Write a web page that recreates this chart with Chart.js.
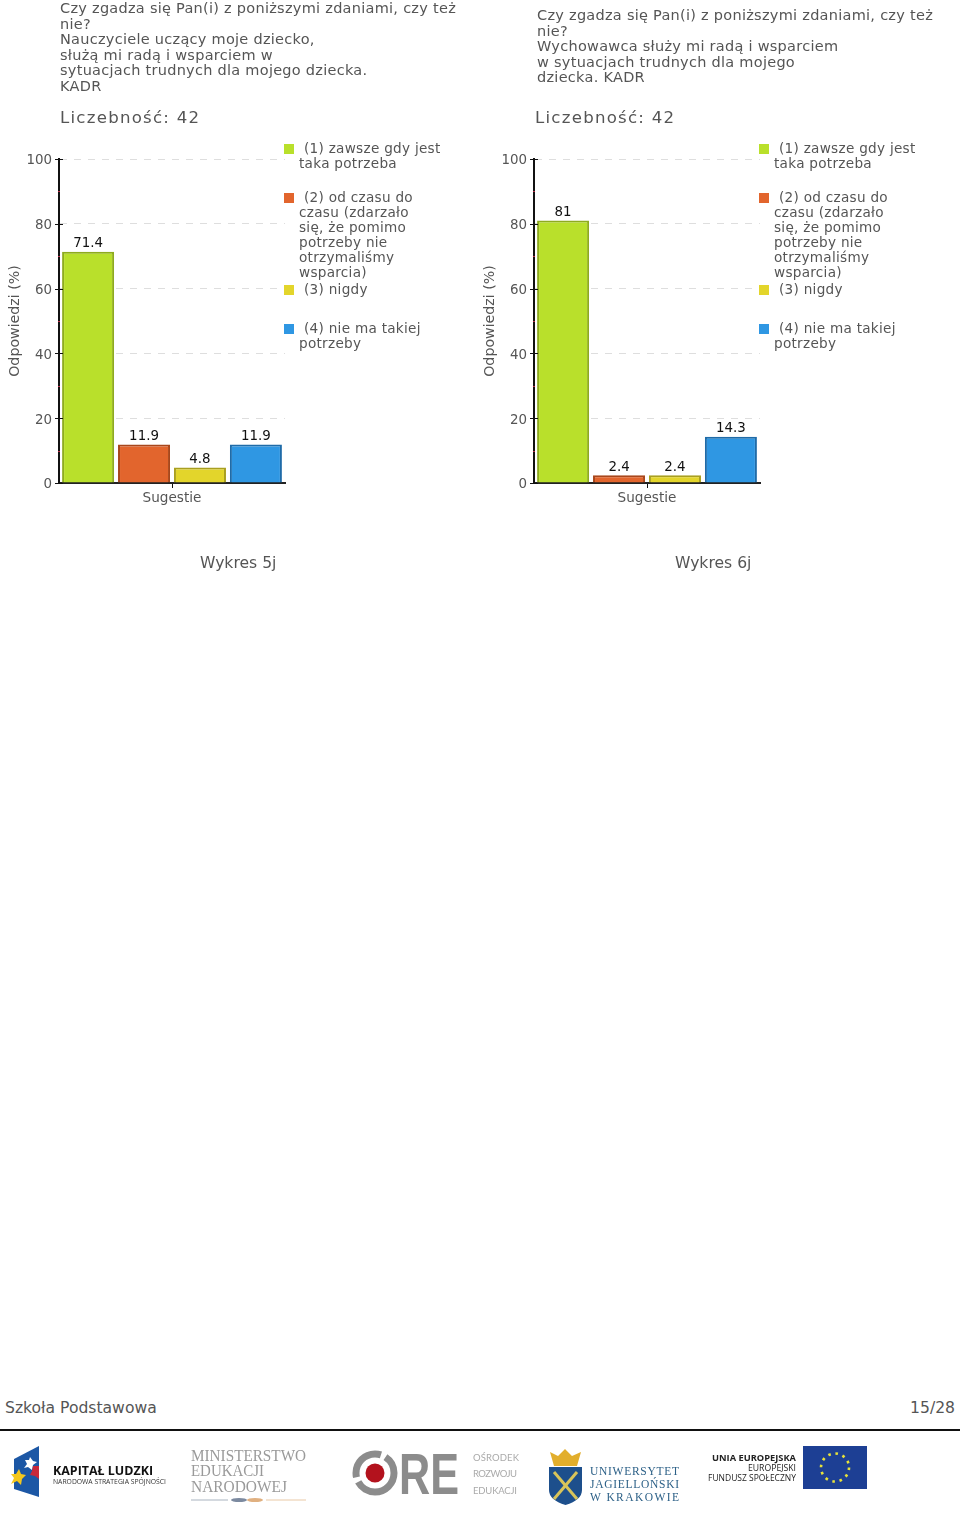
<!DOCTYPE html>
<html lang="pl">
<head>
<meta charset="utf-8">
<title>Wykres 5j, 6j</title>
<script src="https://cdn.jsdelivr.net/npm/chart.js@4"></script>
<style>
  html, body { margin: 0; padding: 0; background: #fff; }
  body { position: relative; width: 960px; height: 1518px; overflow: hidden; font-family: "DejaVu Sans", sans-serif; color: #555; }
  .abs { position: absolute; white-space: nowrap; }
  .head { font-size: 14.5px; line-height: 15.6px; letter-spacing: .27px; }
  .count { font-size: 16.6px; letter-spacing: 1.25px; line-height: 20px; }
  .legend-line { font-size: 13.6px; line-height: 15px; letter-spacing: .28px; }
  .swatch { position: absolute; width: 10px; height: 10px; }
  .caption, .foot { font-size: 15.6px; line-height: 18px; color: #555; }
  canvas { position: absolute; top: 140px; }
  #logos { position: absolute; left: 0; top: 0; }
</style>
</head>
<body>
<canvas id="chart5" width="480" height="380" style="left:0"></canvas>
<canvas id="chart6" width="480" height="380" style="left:475px"></canvas>
<div class="abs foot" style="left:5px;top:1399px">Szkoła Podstawowa</div>
<div class="abs foot" style="right:5px;top:1399px">15/28</div>
<div class="abs" style="left:0;top:1429px;width:960px;height:2px;background:#111"></div>

<svg id="logos" width="960" height="1518">
  <!-- Kapitał Ludzki -->
  <polygon points="14,1459 39,1446 39,1497 14,1489" fill="#1c57a5"/>
  <polygon points="30,1457 33,1461 37,1462 33,1465 32,1470 28,1467 24,1468 27,1464 25,1460 29,1460" fill="#fff"/>
  <polygon points="33,1466 39,1466 39,1479 35,1476 30,1475 32,1471" fill="#c8283a"/>
  <polygon points="19,1469 21,1474 26,1475 22,1479 21,1485 17,1481 11,1484 14,1478 11,1474 16,1474" fill="#f4c81e"/>
  <text x="53" y="1475" font-family="'Open Sans',sans-serif" font-weight="700" font-size="13" fill="#111" textLength="100" lengthAdjust="spacingAndGlyphs">KAPITAŁ LUDZKI</text>
  <text x="53" y="1484" font-family="'Open Sans',sans-serif" font-size="6.5" fill="#333" textLength="113" lengthAdjust="spacingAndGlyphs">NARODOWA STRATEGIA SPÓJNOŚCI</text>
  <!-- MEN -->
  <g font-family="'Liberation Serif',serif" font-size="16" fill="#9a9a9a">
    <text x="191" y="1461" textLength="115" lengthAdjust="spacingAndGlyphs">MINISTERSTWO</text>
    <text x="191" y="1476" textLength="73" lengthAdjust="spacingAndGlyphs">EDUKACJI</text>
    <text x="191" y="1492" textLength="96" lengthAdjust="spacingAndGlyphs">NARODOWEJ</text>
  </g>
  <line x1="191" y1="1500" x2="228" y2="1500" stroke="#a9b4c0" stroke-width="1"/>
  <line x1="266" y1="1500" x2="306" y2="1500" stroke="#e9c9a6" stroke-width="1"/>
  <ellipse cx="239" cy="1500" rx="8" ry="2" fill="#7c8aa0"/>
  <ellipse cx="255" cy="1500" rx="8" ry="2" fill="#e0b080"/>
  <!-- ORE -->
  <circle cx="375" cy="1473" r="19" fill="none" stroke="#8c8c8c" stroke-width="7" stroke-dasharray="50 5 40 5 20 5"/>
  <circle cx="375" cy="1473" r="9.5" fill="#b3121d"/>
  <text x="399" y="1494" font-family="'Liberation Sans',sans-serif" font-weight="700" font-size="57" fill="#8c8c8c" textLength="60" lengthAdjust="spacingAndGlyphs">RE</text>
  <g font-family="'Lato',sans-serif" font-size="9.5" fill="#aaa">
    <text x="473" y="1461" textLength="46">OŚRODEK</text>
    <text x="473" y="1477" textLength="44">ROZWOJU</text>
    <text x="473" y="1494" textLength="44">EDUKACJI</text>
  </g>
  <!-- UJ -->
  <polygon points="550,1452 558,1456 565,1449 572,1456 581,1452 577,1466 554,1466" fill="#e2ae2c"/>
  <path d="M549,1467 H582 V1490 Q582,1500 565.5,1505 Q549,1500 549,1490 Z" fill="#1d4f8c"/>
  <line x1="554" y1="1472" x2="577" y2="1499" stroke="#d8c45a" stroke-width="3"/>
  <line x1="577" y1="1472" x2="554" y2="1499" stroke="#d8c45a" stroke-width="3"/>
  <g font-family="'Liberation Serif',serif" font-size="11.5" fill="#2c6087">
    <text x="590" y="1475" textLength="89">UNIWERSYTET</text>
    <text x="590" y="1488" textLength="89">JAGIELLOŃSKI</text>
    <text x="590" y="1501" textLength="89">W KRAKOWIE</text>
  </g>
  <!-- UE -->
  <g font-family="'Open Sans',sans-serif" font-size="9" fill="#222" text-anchor="end">
    <text x="796" y="1461" font-weight="700" textLength="84" lengthAdjust="spacingAndGlyphs">UNIA EUROPEJSKA</text>
    <text x="796" y="1471" textLength="48" lengthAdjust="spacingAndGlyphs">EUROPEJSKI</text>
    <text x="796" y="1481" textLength="88" lengthAdjust="spacingAndGlyphs">FUNDUSZ SPOŁECZNY</text>
  </g>
  <rect x="803" y="1446" width="64" height="43" fill="#1d3f94"/>
  <circle cx="835" cy="1467.5" r="14" fill="none" stroke="#e8e23a" stroke-width="2.6" stroke-dasharray="2.6 4.73"/>
</svg>

<script>
// wykresy 5j i 6j
const categories = ['Sugestie'];
const seriesNames = ['(1) zawsze gdy jest taka potrzeba', '(2) od czasu do czasu', '(3) nigdy', '(4) nie ma takiej potrzeby'];
const values5j = [71.4, 11.9, 4.8, 11.9];
const values6j = [81, 2.4, 2.4, 14.3];
const fillColors = ['#b9e02b', '#e2652d', '#e3d52b', '#2f97e3'];
const edgeColors = ['#8eab1e', '#a8471c', '#a99f20', '#1f6ba8'];
const tickLabels = ['0', '20', '40', '60', '80', '100'];
const axisTitle = 'Odpowiedzi (%)';

const head5j = ['Czy zgadza się Pan(i) z poniższymi zdaniami, czy też', 'nie?', 'Nauczyciele uczący moje dziecko,', 'służą mi radą i wsparciem w', 'sytuacjach trudnych dla mojego dziecka.', 'KADR'];
const head6j = ['Czy zgadza się Pan(i) z poniższymi zdaniami, czy też', 'nie?', 'Wychowawca służy mi radą i wsparciem', 'w sytuacjach trudnych dla mojego', 'dziecka. KADR'];
const legendLines = [
  ['(1) zawsze gdy jest', 'taka potrzeba'],
  ['(2) od czasu do', 'czasu (zdarzało', 'się, że pomimo', 'potrzeby nie', 'otrzymaliśmy', 'wsparcia)'],
  ['(3) nigdy'],
  ['(4) nie ma takiej', 'potrzeby']
];

const FONT = '"DejaVu Sans", sans-serif';

function addText(cls, left, top, text) {
  const d = document.createElement('div');
  d.className = 'abs ' + cls;
  d.style.left = left + 'px';
  d.style.top = top + 'px';
  d.textContent = text;
  document.body.appendChild(d);
}

function addHeader(dx, x, top, lines) {
  lines.forEach((t, i) => addText('head', x, top + i * 15.6, t));
  addText('count', 60 + dx, 108, 'Liczebność: 42');
}

function addLegend(dx) {
  const tops = [141, 190, 282, 321];
  legendLines.forEach((lines, i) => {
    const sw = document.createElement('div');
    sw.className = 'swatch';
    sw.style.left = 284 + dx + 'px';
    sw.style.top = tops[i] + 3 + 'px';
    sw.style.background = fillColors[i];
    document.body.appendChild(sw);
    lines.forEach((t, j) => addText('legend-line', (j ? 299 : 304) + dx, tops[i] + j * 15, t));
  });
}

// etykiety nad slupkami
const barLabels = {
  id: 'barLabels',
  afterDatasetsDraw(chart) {
    const ctx = chart.ctx;
    ctx.save();
    ctx.font = '13.4px ' + FONT;
    ctx.fillStyle = '#111';
    ctx.textAlign = 'center';
    ctx.textBaseline = 'bottom';
    chart.data.datasets.forEach((ds, i) => {
      const bar = chart.getDatasetMeta(i).data[0];
      ctx.fillText(String(ds.data[0]), bar.x, bar.y - 1);
    });
    ctx.restore();
  }
};

// krotkie kreski na osi Y
const axisTicks = {
  id: 'axisTicks',
  afterDraw(chart) {
    const ctx = chart.ctx, y = chart.scales.y, x0 = chart.chartArea.left;
    ctx.save();
    y.ticks.forEach(t => {
      const py = Math.round(y.getPixelForValue(t.value)) + .5;
      const major = t.value % 20 === 0;
      ctx.strokeStyle = major ? '#111' : '#b8324a';
      ctx.lineWidth = 1;
      ctx.beginPath();
      ctx.moveTo(major ? x0 - 4 : x0 - 1, py);
      ctx.lineTo(major ? x0 + 4 : x0 + 1, py);
      ctx.stroke();
    });
    ctx.restore();
  }
};

function makeChart(id, values) {
  new Chart(document.getElementById(id), {
    type: 'bar',
    data: {
      labels: categories,
      datasets: values.map((v, i) => ({
        label: seriesNames[i],
        data: [v],
        backgroundColor: fillColors[i],
        borderColor: edgeColors[i],
        borderWidth: 2
      }))
    },
    options: {
      responsive: false,
      animation: false,
      devicePixelRatio: 1,
      barPercentage: 0.93,
      categoryPercentage: 0.99,
      layout: { padding: { top: 19, right: 195 } },
      plugins: { legend: { display: false }, tooltip: { enabled: false } },
      scales: {
        x: {
          afterFit(s) { s.height = 37; },
          grid: { display: true, drawOnChartArea: false, tickLength: 5, tickColor: '#111', offset: false },
          border: { color: '#222', width: 2 },
          ticks: { color: '#555', font: { size: 13.6, family: FONT }, padding: 2, maxRotation: 0 }
        },
        y: {
          min: 0,
          max: 100,
          afterFit(s) { s.width = 59; },
          border: { color: '#111', width: 2, dash: [7, 7] },
          grid: {
            drawTicks: false,
            color: c => c.tick && c.tick.value % 20 === 0 && c.tick.value > 0 ? '#dedede' : 'transparent',
            lineWidth: 1
          },
          ticks: {
            stepSize: 10,
            autoSkip: false,
            padding: 7,
            labelOffset: 2,
            color: '#555',
            font: { size: 13.4, family: FONT },
            callback: v => tickLabels[v / 20] || ''
          },
          title: {
            display: true,
            text: axisTitle,
            color: '#555',
            font: { size: 14.2, family: FONT },
            padding: { top: 7, bottom: 0 }
          }
        }
      }
    },
    plugins: [barLabels, axisTicks]
  });
}

addHeader(0, 60, 1, head5j);
addHeader(475, 537, 8, head6j);
addLegend(0);
addLegend(475);
addText('caption', 200, 554, 'Wykres 5j');
addText('caption', 675, 554, 'Wykres 6j');
makeChart('chart5', values5j);
makeChart('chart6', values6j);
</script>
</body>
</html>
